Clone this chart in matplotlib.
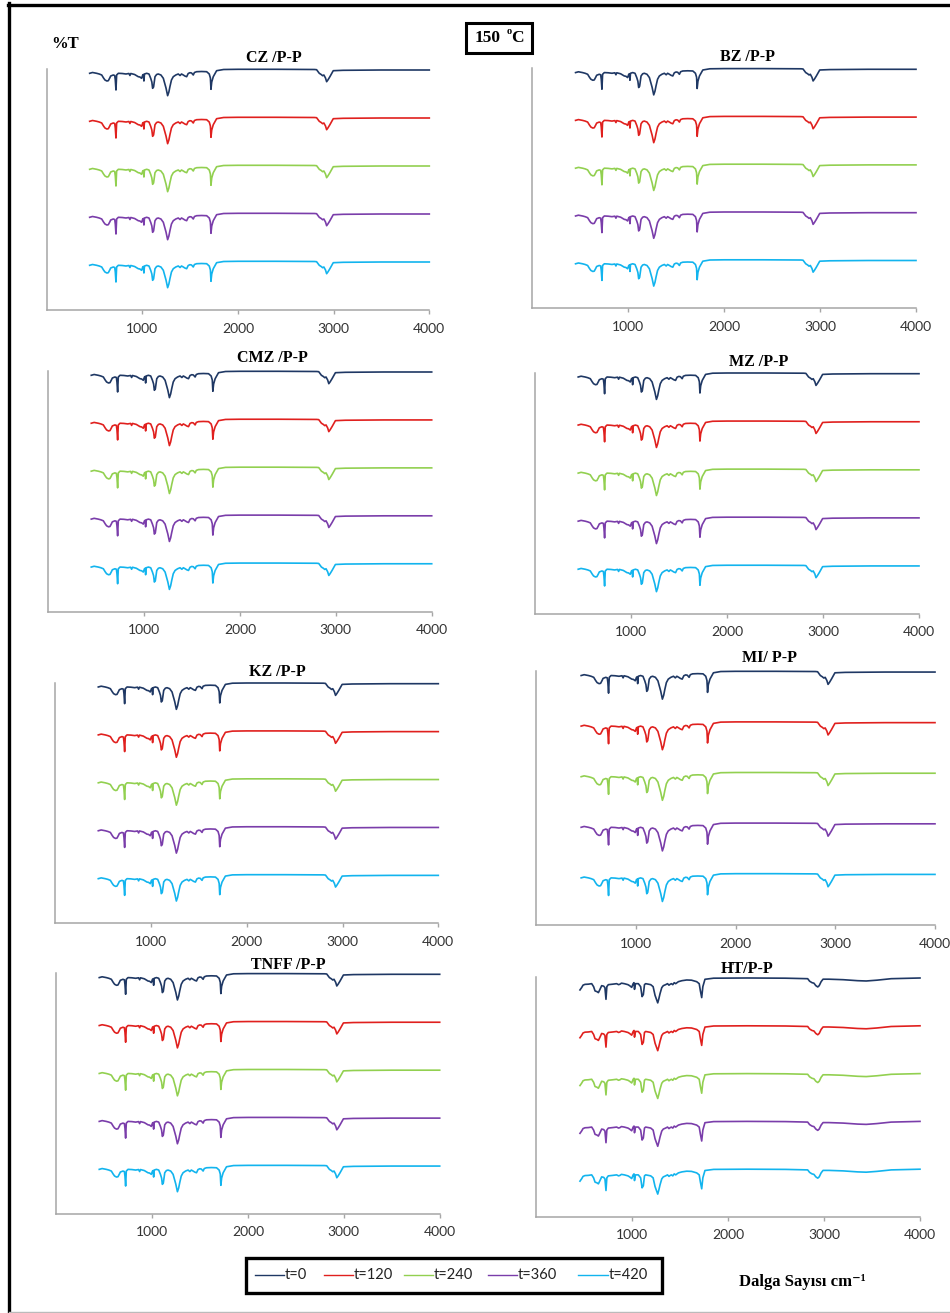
import matplotlib.pyplot as plt
from matplotlib.lines import Line2D
from matplotlib.patches import Rectangle

W, H = 950, 1313

series_labels = ['t=0', 't=120', 't=240', 't=360', 't=420']
series_colors = ['#1F3864', '#E0201E', '#92D050', '#7A3DAA', '#12B4EE']
# stacked baseline (%T) of each time trace
offsets = [240, 192, 144, 96, 48]

panel_titles = ['CZ /P-P', 'BZ /P-P', 'CMZ /P-P', 'MZ /P-P',
                'KZ /P-P', 'MI/ P-P', 'TNFF /P-P', 'HT/P-P']
x_ticks = [1000, 2000, 3000, 4000]

# (wavenumber cm-1, drop below baseline in %T)
base_bands = [
    (450, 3.3), (480, 2.5), (523, 3.3), (550, 4), (576, 5), (595, 8),
    (610, 10), (630, 11), (645, 10.7), (660, 8), (670, 6), (697, 5),
    (712, 5.5), (718, 10), (725, 20), (732, 5), (750, 3.3), (790, 3.5),
    (830, 4), (860, 3.5), (871, 5.5), (880, 3.5), (920, 4.5), (958, 6.7),
    (975, 7), (993, 8.3), (1005, 5), (1012, 4.5), (1017, 11), (1023, 4),
    (1046, 3.3), (1070, 4), (1088, 8.3), (1100, 12), (1108, 18.3),
    (1118, 17), (1133, 6.7), (1150, 4.5), (1167, 4), (1195, 5), (1220, 8.3),
    (1248, 18), (1265, 25.7), (1278, 22), (1289, 16.7), (1305, 10),
    (1324, 6.7), (1350, 5), (1376, 4), (1395, 5.5), (1410, 4), (1429, 5),
    (1445, 6), (1464, 6.7), (1480, 3.5), (1498, 2.7), (1515, 3), (1533, 5),
    (1545, 2.5), (1568, 1.7), (1620, 1.5), (1673, 1.7), (1700, 4),
    (1712, 8), (1718, 19.3), (1726, 12), (1742, 6.7), (1777, 0.7),
    (1850, -0.5), (2000, -0.7), (2400, -0.7), (2800, -0.5), (2822, -0.3),
    (2850, 3.3), (2870, 4.5), (2885, 5.7), (2898, 5), (2915, 8),
    (2927, 11.7), (2940, 10), (2961, 6.7), (2996, 0.7), (3100, 0.3),
    (3500, 0), (4000, 0),
]

ht_bands = [
    (458, 12.3), (475, 10), (490, 7.5), (510, 6.7), (545, 6.5), (580, 6),
    (600, 9), (615, 13.3), (635, 14), (650, 15), (665, 12), (684, 8),
    (705, 8.5), (718, 10), (729, 21.7), (738, 9), (753, 7), (800, 6.5),
    (840, 6), (860, 7), (875, 6.5), (890, 5.5), (920, 6), (958, 7),
    (975, 8), (997, 9.7), (1012, 6), (1021, 5), (1026, 11.7), (1036, 6),
    (1066, 6), (1090, 9), (1105, 19), (1118, 17), (1130, 7), (1142, 6),
    (1170, 6.5), (1195, 7), (1220, 9), (1240, 17.7), (1268, 25.3),
    (1280, 21), (1292, 16), (1310, 10), (1326, 8), (1350, 7), (1370, 6),
    (1385, 7.5), (1396, 6.7), (1410, 6), (1425, 7), (1440, 5), (1455, 6),
    (1483, 4), (1520, 3), (1570, 2.3), (1620, 2.5), (1674, 4), (1700, 6),
    (1712, 13), (1726, 20), (1738, 9), (1760, 1.6), (1850, 0.5),
    (2200, 0.3), (2600, 0.5), (2830, 1), (2850, 3.5), (2875, 5),
    (2895, 5.5), (2915, 8), (2935, 9.3), (2950, 8), (2970, 4), (2990, 1.5),
    (3050, 1.5), (3200, 2), (3350, 3), (3440, 3.3), (3550, 2.5),
    (3700, 1), (4000, 0.3),
]

panel_spectra = [base_bands] * 7 + [ht_bands]

# axes boxes in pixels: left, right, top, bottom
boxes = [
    (46.6, 429.3, 69, 310), (532.4, 916, 68.3, 308.3),
    (48.1, 431.7, 371, 611.7), (535, 919, 372.7, 614),
    (55.2, 438.3, 682.7, 923.3), (536.3, 935, 671, 925),
    (56.1, 439.7, 973.3, 1214), (536, 920, 976.7, 1216.7),
]
title_pos = [(274, 58), (748, 57), (272, 358), (759, 362),
             (277, 672), (770, 658), (288, 965), (747, 969)]

serif = ['Liberation Serif', 'DejaVu Serif']
sans = 'Lato'

fig = plt.figure(figsize=(W / 100, H / 100), dpi=100)


def fx(x):
    return x / W


def fy(y):
    return 1 - y / H


for i, (l, r, t, b) in enumerate(boxes):
    ax = fig.add_axes([fx(l), fy(b), (r - l) / W, (b - t) / H])
    wn = [p[0] for p in panel_spectra[i]]
    drop = [p[1] for p in panel_spectra[i]]
    for off, col in zip(offsets, series_colors):
        ax.plot(wn, [off - d for d in drop], color=col, lw=1.2, clip_on=False)
    ax.set_xlim(0, 4000)
    ax.set_ylim(0, 241)
    ax.set_xticks(x_ticks)
    ax.set_yticks([])
    for s in ['top', 'right']:
        ax.spines[s].set_visible(False)
    for s in ['left', 'bottom']:
        ax.spines[s].set_color('#A6A6A6')
        ax.spines[s].set_linewidth(1.1)
    ax.tick_params(axis='x', direction='out', length=3, width=1,
                   color='#A6A6A6', pad=6, labelsize=10, labelcolor='#333333')
    for lab in ax.get_xticklabels():
        lab.set_family(sans)
    tx, ty = title_pos[i]
    fig.text(fx(tx), fy(ty), panel_titles[i], ha='center', va='center',
             family=serif, fontweight='bold', fontsize=11.5)

# y label and temperature box
fig.text(fx(65), fy(44), '%T', ha='center', va='center', family=serif,
         fontweight='bold', fontsize=12)
fig.patches.append(Rectangle((fx(466), fy(53)), 66 / W, 30 / H,
                             transform=fig.transFigure, fill=False,
                             ec='black', lw=2.2))
fig.text(fx(475), fy(38.5), '150', ha='left', va='center',
         family=serif, fontweight='bold', fontsize=12.5)
fig.text(fx(506.5), fy(31.5), 'o', ha='left', va='center',
         family=serif, fontweight='bold', fontsize=7.5)
fig.text(fx(511.5), fy(38.5), 'C', ha='left', va='center',
         family=serif, fontweight='bold', fontsize=12.5)

# legend
fig.patches.append(Rectangle((fx(246), fy(1292.5)), 416 / W, 34.5 / H,
                             transform=fig.transFigure, fill=False,
                             ec='black', lw=2.4))
leg_x = [(255, 284), (324, 353), (404, 433), (488, 517), (578, 608)]
for (x0, x1), lab, col in zip(leg_x, series_labels, series_colors):
    fig.add_artist(Line2D([fx(x0), fx(x1)], [fy(1275), fy(1275)],
                          transform=fig.transFigure, color=col, lw=1.0))
    fig.text(fx(x1 + 1), fy(1275), lab, ha='left', va='center', family=sans,
             fontsize=10.5, color='#222222')

fig.text(fx(739), fy(1282), 'Dalga Sayısı cm⁻¹', ha='left', va='center',
         family=serif, fontweight='bold', fontsize=12)

# outer frame
fig.add_artist(Line2D([fx(9), fx(9)], [fy(3), fy(1311)],
                      transform=fig.transFigure, color='black', lw=2.4))
fig.add_artist(Line2D([fx(8), fx(950)], [fy(4.5), fy(4.5)],
                      transform=fig.transFigure, color='black', lw=2.4))
fig.add_artist(Line2D([fx(9), fx(950)], [fy(1311.5), fy(1311.5)],
                      transform=fig.transFigure, color='#BBBBBB', lw=1))

fig.savefig('out.png', dpi=100)
